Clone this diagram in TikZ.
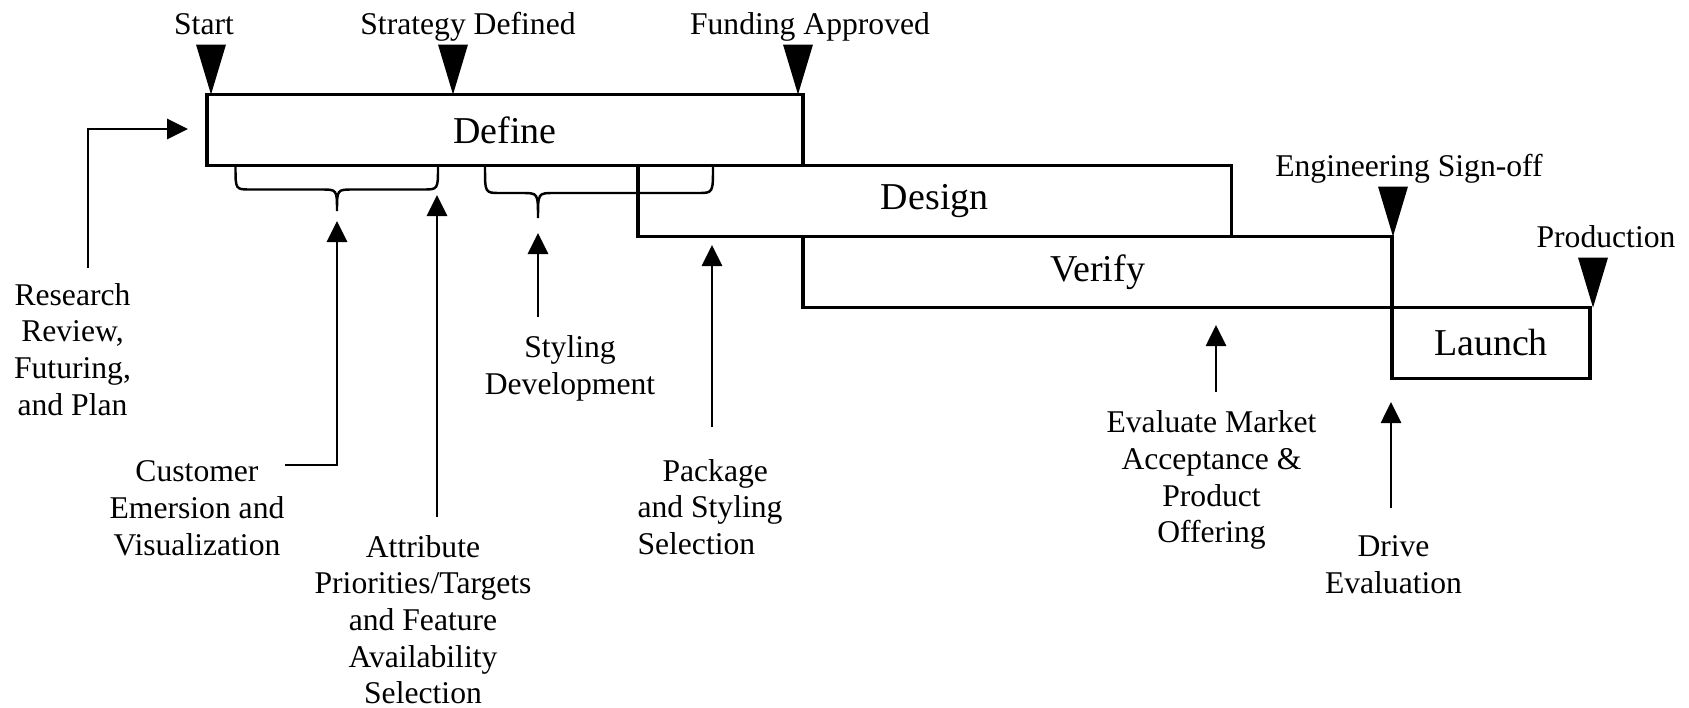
\documentclass[tikz,border=0pt]{standalone}
\usepackage{fontspec}
\setmainfont{Liberation Serif}
\usetikzlibrary{positioning,arrows.meta}

\begin{document}
\begin{tikzpicture}[phase/.style = {draw=black, line width=1pt, minimum height=0.71cm, anchor=north west, outer sep=0pt, inner sep=0pt, font=\fontsize{10.8}{13}\selectfont},
    note/.style = {align=center, inner sep=0pt, anchor=north, font=\fontsize{9}{10.45}\selectfont},
    arr/.style = {line width=0.8pt, -{Triangle[length=0.21cm,width=0.2cm]}},
    brace/.style = {line width=0.7pt}]
\useasboundingbox (0,0) rectangle (16.89,-7.07);

% phases
\node[phase, minimum width=5.96cm] (define) at (2.07,-0.945) {Define};
\node[phase, minimum width=5.935cm] (design) at (6.38,-1.655) {Design};
\node[phase, minimum width=5.89cm] (verify) at (8.03,-2.365) {Verify};
\node[phase, minimum width=1.98cm] (launch) at (13.92,-3.075) {Launch};

% milestones
\foreach \tx/\ty/\lx/\txt [count=\i] in {2.11/-0.945/2.04/Start, 4.53/-0.945/4.68/Strategy Defined, 7.98/-0.945/8.10/Funding Approved, 13.93/-2.365/14.09/Engineering Sign-off, 15.93/-3.075/16.06/Production}
{
    \coordinate (ms\i) at (\tx,\ty);
    \fill (ms\i) -- ++(-0.15,0.5) -- ++(0.3,0) -- cycle;
    \node[anchor=base, inner sep=0pt, font=\fontsize{9}{10.45}\selectfont] (msl\i) at (\lx,{\ty+0.6}) {\txt};
}

% braces under define
\foreach \l/\m/\r/\h/\t [count=\i] in {2.355/3.37/4.38/-1.895/-2.11, 4.85/5.38/7.13/-1.93/-2.18}
{
    \draw[brace] (\l,-1.67) .. controls (\l,\h) .. ({\l+0.15},\h)
        -- ({\m-0.16},\h) .. controls (\m,\h) .. (\m,\t)
        .. controls (\m,\h) .. ({\m+0.16},\h)
        -- ({\r-0.15},\h) .. controls (\r,\h) .. (\r,-1.67);
    \coordinate (brace\i) at (\m,\t);
}

% activities
\node[note] (research) at (0.725,-2.824) {Research\\Review,\\Futuring,\\and Plan};
\node[note] (customer) at (1.97,-4.60) {Customer\\Emersion and\\Visualization};
\node[note] (attribute) at (4.23,-5.344) {Attribute\\Priorities/Targets\\and Feature\\Availability\\Selection};
\node[note] (styling) at (5.70,-3.35) {Styling\\Development};
\node[note, align=left] (package) at (7.10,-4.584) {\hspace*{0.25cm}Package\\and Styling\\Selection};
\node[note] (evaluate) at (12.115,-4.10) {Evaluate Market\\Acceptance \&\\Product\\Offering};
\node[note] (drive) at (13.935,-5.35) {Drive\\Evaluation};

\coordinate (restip) at (1.88,-1.29);
\coordinate (attrtip) at (4.37,-1.95);
\coordinate (pkgtip) at (7.12,-2.45);
\coordinate (evaltip) at (12.16,-3.25);
\coordinate (drivetip) at (13.91,-4.02);

\draw[arr, shorten <=0.14cm] ([xshift=0.155cm]research.north) |- (restip);
\draw[arr] ([yshift=-0.05cm]customer.north east) -| ([yshift=-0.1cm]brace1);
\draw[arr, shorten <=0.17cm] (attribute.north -| attrtip) -- (attrtip);
\draw[arr, shorten <=0.18cm] (styling.north -| brace2) -- ([yshift=-0.15cm]brace2);
\draw[arr, shorten <=0.31cm] (package.north -| pkgtip) -- (pkgtip);
\draw[arr, shorten <=0.18cm] (evaluate.north -| evaltip) -- (evaltip);
\draw[arr, shorten <=0.27cm] (drive.north -| drivetip) -- (drivetip);
\end{tikzpicture}
\end{document}
